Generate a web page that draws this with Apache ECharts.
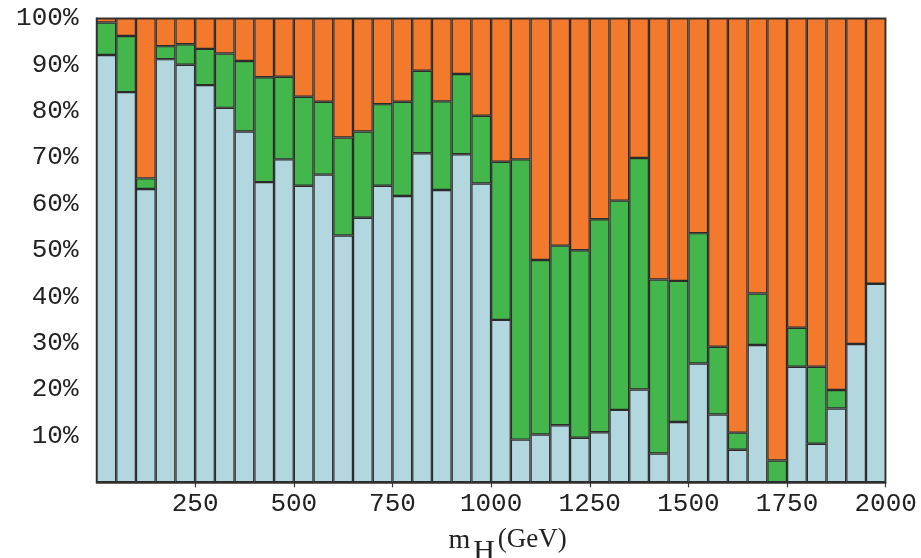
<!DOCTYPE html>
<html>
<head>
<meta charset="utf-8">
<script src="https://cdn.jsdelivr.net/npm/echarts@6/dist/echarts.min.js"></script>
<style>
html,body{margin:0;padding:0;background:#fff;}
#chart{width:921px;height:558px;}
</style>
</head>
<body>
<div id="chart"></div>
<script>
// bin lower edges (GeV), bin width 50
const binStarts = [0,50,100,150,200,250,300,350,400,450,500,550,600,650,700,750,800,850,900,950,
  1000,1050,1100,1150,1200,1250,1300,1350,1400,1450,1500,1550,1600,1650,1700,1750,1800,1850,1900,1950];
// fractions in percent (stacked to 100)
const blueVals = [92.1,84.1,63.2,91.2,90.0,85.6,80.7,75.6,64.7,69.6,63.9,66.3,53.2,57.0,63.9,61.7,70.9,63.0,70.7,64.4,
  35.0,9.2,10.3,12.3,9.6,10.8,15.6,20.0,6.2,13.0,25.6,14.6,7.0,29.6,0,24.9,8.3,15.9,29.8,42.8];
const greenVals = [7.0,12.1,2.3,2.8,4.4,7.8,11.7,15.2,22.6,17.8,19.2,15.7,21.1,18.6,17.6,20.3,17.8,19.1,17.3,14.6,
  34.1,60.4,37.6,38.7,40.4,45.9,45.1,49.9,37.5,30.4,28.1,14.6,3.7,11.1,4.7,8.4,16.6,4.0,0,0];
const orangeVals = [0.9,3.8,34.5,6.0,5.6,6.6,7.6,9.2,12.7,12.6,16.9,18.0,25.7,24.4,18.5,18.0,11.3,17.9,12.0,21.0,
  30.9,30.4,52.1,49.0,50.0,43.3,39.3,30.1,56.3,56.6,46.3,70.8,89.3,59.3,95.3,66.7,75.1,80.1,70.2,57.2];
const xTicks = [0,250,500,750,1000,1250,1500,1750,2000];
const yTicks = [0,10,20,30,40,50,60,70,80,90,100];

const chart = echarts.init(document.getElementById('chart'), null, {renderer:'canvas'});
const labelFont = {fontFamily:'Liberation Mono', fontSize:26, color:'#222'};
const barBorder = {borderColor:'#2b2b2b', borderWidth:1.2};
chart.setOption({
  animation:false,
  backgroundColor:'#fff',
  grid:{left:96.5, right:35.3, top:18.3, bottom:75.7, containLabel:false, outerBoundsMode:'none',
        show:true, borderColor:'#3a3a3a', borderWidth:1.5, backgroundColor:'transparent'},
  xAxis:[
    {type:'category', data:binStarts, show:false, boundaryGap:true},
    {type:'value', min:xTicks[0], max:xTicks[xTicks.length-1], interval:250, position:'bottom',
     axisLine:{show:true, lineStyle:{color:'#333', width:1.5}},
     axisTick:{show:true, inside:false, length:5, lineStyle:{color:'#333', width:1.2}},
     splitLine:{show:false},
     axisLabel:Object.assign({showMinLabel:false, margin:9, formatter:function(v){return String(v);}}, labelFont),
     name:'{m|m}{h|H}{g|(GeV)}', nameLocation:'middle', nameGap:44,
     nameTextStyle:{
       padding:[0,0,0,33],
       rich:{
         m:{fontFamily:'Liberation Serif', fontSize:28, color:'#222', verticalAlign:'top', lineHeight:30},
         h:{fontFamily:'Liberation Serif', fontSize:30, color:'#222', verticalAlign:'top', lineHeight:30, padding:[11,3,0,3]},
         g:{fontFamily:'Liberation Serif', fontSize:27, color:'#222', verticalAlign:'top', lineHeight:30}
       }
     }
    }
  ],
  yAxis:{type:'value', min:yTicks[0], max:yTicks[yTicks.length-1], interval:10,
    axisLine:{show:true, lineStyle:{color:'#333', width:1.5}},
    axisTick:{show:false}, splitLine:{show:false},
    axisLabel:Object.assign({showMinLabel:false, margin:18, formatter:'{value}%'}, labelFont)
  },
  series:[
    {name:'blue', type:'bar', stack:'f', xAxisIndex:0, data:blueVals, barCategoryGap:'0%',
     itemStyle:Object.assign({color:'#b2d7df'}, barBorder)},
    {name:'green', type:'bar', stack:'f', xAxisIndex:0, data:greenVals, barCategoryGap:'0%',
     itemStyle:Object.assign({color:'#43b74b'}, barBorder)},
    {name:'orange', type:'bar', stack:'f', xAxisIndex:0, data:orangeVals, barCategoryGap:'0%',
     itemStyle:Object.assign({color:'#f37a2d'}, barBorder)}
  ]
});
</script>
</body>
</html>
